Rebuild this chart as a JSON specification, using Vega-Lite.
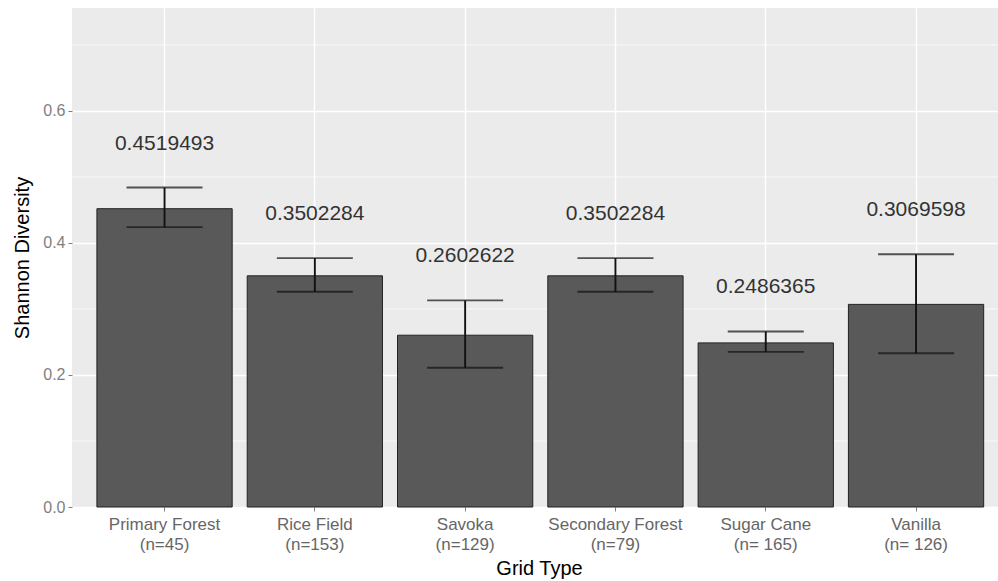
{
  "$schema": "https://vega.github.io/schema/vega-lite/v6.json",
  "autosize": {"type": "none"},
  "padding": {"left": 72, "top": 8, "right": 0, "bottom": 74},
  "width": 926,
  "height": 499,
  "background": "white",
  "config": {"view": {"fill": "#EBEBEB", "stroke": null}, "font": "Liberation Sans"},
  "data": {"values": [
    {"grid": "Primary Forest|(n=45)", "mean": 0.4519493, "lo": 0.424, "hi": 0.484},
    {"grid": "Rice Field|(n=153)", "mean": 0.3502284, "lo": 0.326, "hi": 0.377},
    {"grid": "Savoka|(n=129)", "mean": 0.2602622, "lo": 0.211, "hi": 0.313},
    {"grid": "Secondary Forest|(n=79)", "mean": 0.3502284, "lo": 0.326, "hi": 0.377},
    {"grid": "Sugar Cane|(n= 165)", "mean": 0.2486365, "lo": 0.235, "hi": 0.266},
    {"grid": "Vanilla|(n= 126)", "mean": 0.3069598, "lo": 0.233, "hi": 0.383}
  ]},
  "layer": [
    {
      "data": {"values": [{"m": 0.1}, {"m": 0.3}, {"m": 0.5}, {"m": 0.7}]},
      "mark": {"type": "rule", "color": "white", "strokeWidth": 0.7},
      "encoding": {"y": {"field": "m", "type": "quantitative", "title": "Shannon Diversity"}}
    },
    {
      "mark": {"type": "bar", "fill": "#595959", "stroke": "#222222", "strokeWidth": 1},
      "encoding": {
        "x": {
          "field": "grid", "type": "nominal", "sort": null,
          "scale": {"type": "band", "paddingInner": 0.1, "paddingOuter": 0.1305, "align": 0.635},
          "axis": {
            "title": "Grid Type", "labelExpr": "split(datum.label, '|')", "labelAngle": 0,
            "labelFontSize": 17, "labelColor": "#666666", "labelLineHeight": 20, "labelPadding": 5,
            "tickSize": 4, "tickColor": "#7f7f7f", "domain": false,
            "grid": true, "gridColor": "white", "gridWidth": 1.4,
            "titleFontSize": 20, "titleFontWeight": "normal", "titleColor": "black",
            "titleX": 467, "titleY": 67, "titleBaseline": "alphabetic", "titleAlign": "center"
          }
        },
        "y": {
          "field": "mean", "type": "quantitative",
          "scale": {"domain": [0, 0.756], "nice": false, "zero": true},
          "axis": {
            "title": "Shannon Diversity", "values": [0, 0.2, 0.4, 0.6], "format": ".1f",
            "grid": true, "gridColor": "white", "gridWidth": 1.4, "domain": false,
            "tickColor": "#7f7f7f", "tickSize": 4, "labelColor": "#7f7f7f", "labelFontSize": 16, "labelPadding": 3,
            "titleFontSize": 20, "titleFontWeight": "normal", "titleColor": "black",
            "titleX": -50, "titleY": 249.5, "titleAngle": 270, "titleBaseline": "middle", "titleAlign": "center"
          }
        }
      }
    },
    {
      "mark": {"type": "rule", "color": "#111111", "strokeWidth": 1.9},
      "encoding": {
        "x": {"field": "grid", "type": "nominal", "sort": null, "title": "Grid Type"},
        "y": {"field": "lo", "type": "quantitative", "title": "Shannon Diversity"},
        "y2": {"field": "hi"}
      }
    },
    {
      "mark": {"type": "tick", "color": "#111111", "size": 76, "thickness": 1.9},
      "encoding": {
        "x": {"field": "grid", "type": "nominal", "sort": null, "title": "Grid Type"},
        "y": {"field": "lo", "type": "quantitative", "title": "Shannon Diversity"}
      }
    },
    {
      "mark": {"type": "tick", "color": "#111111", "size": 76, "thickness": 1.9},
      "encoding": {
        "x": {"field": "grid", "type": "nominal", "sort": null, "title": "Grid Type"},
        "y": {"field": "hi", "type": "quantitative", "title": "Shannon Diversity"}
      }
    },
    {
      "mark": {"type": "text", "fontSize": 21, "color": "#333333", "dy": -44, "baseline": "middle"},
      "encoding": {
        "x": {"field": "grid", "type": "nominal", "sort": null, "title": "Grid Type"},
        "y": {"field": "hi", "type": "quantitative", "title": "Shannon Diversity"},
        "text": {"field": "mean", "type": "quantitative", "format": ".7f"}
      }
    }
  ]
}
